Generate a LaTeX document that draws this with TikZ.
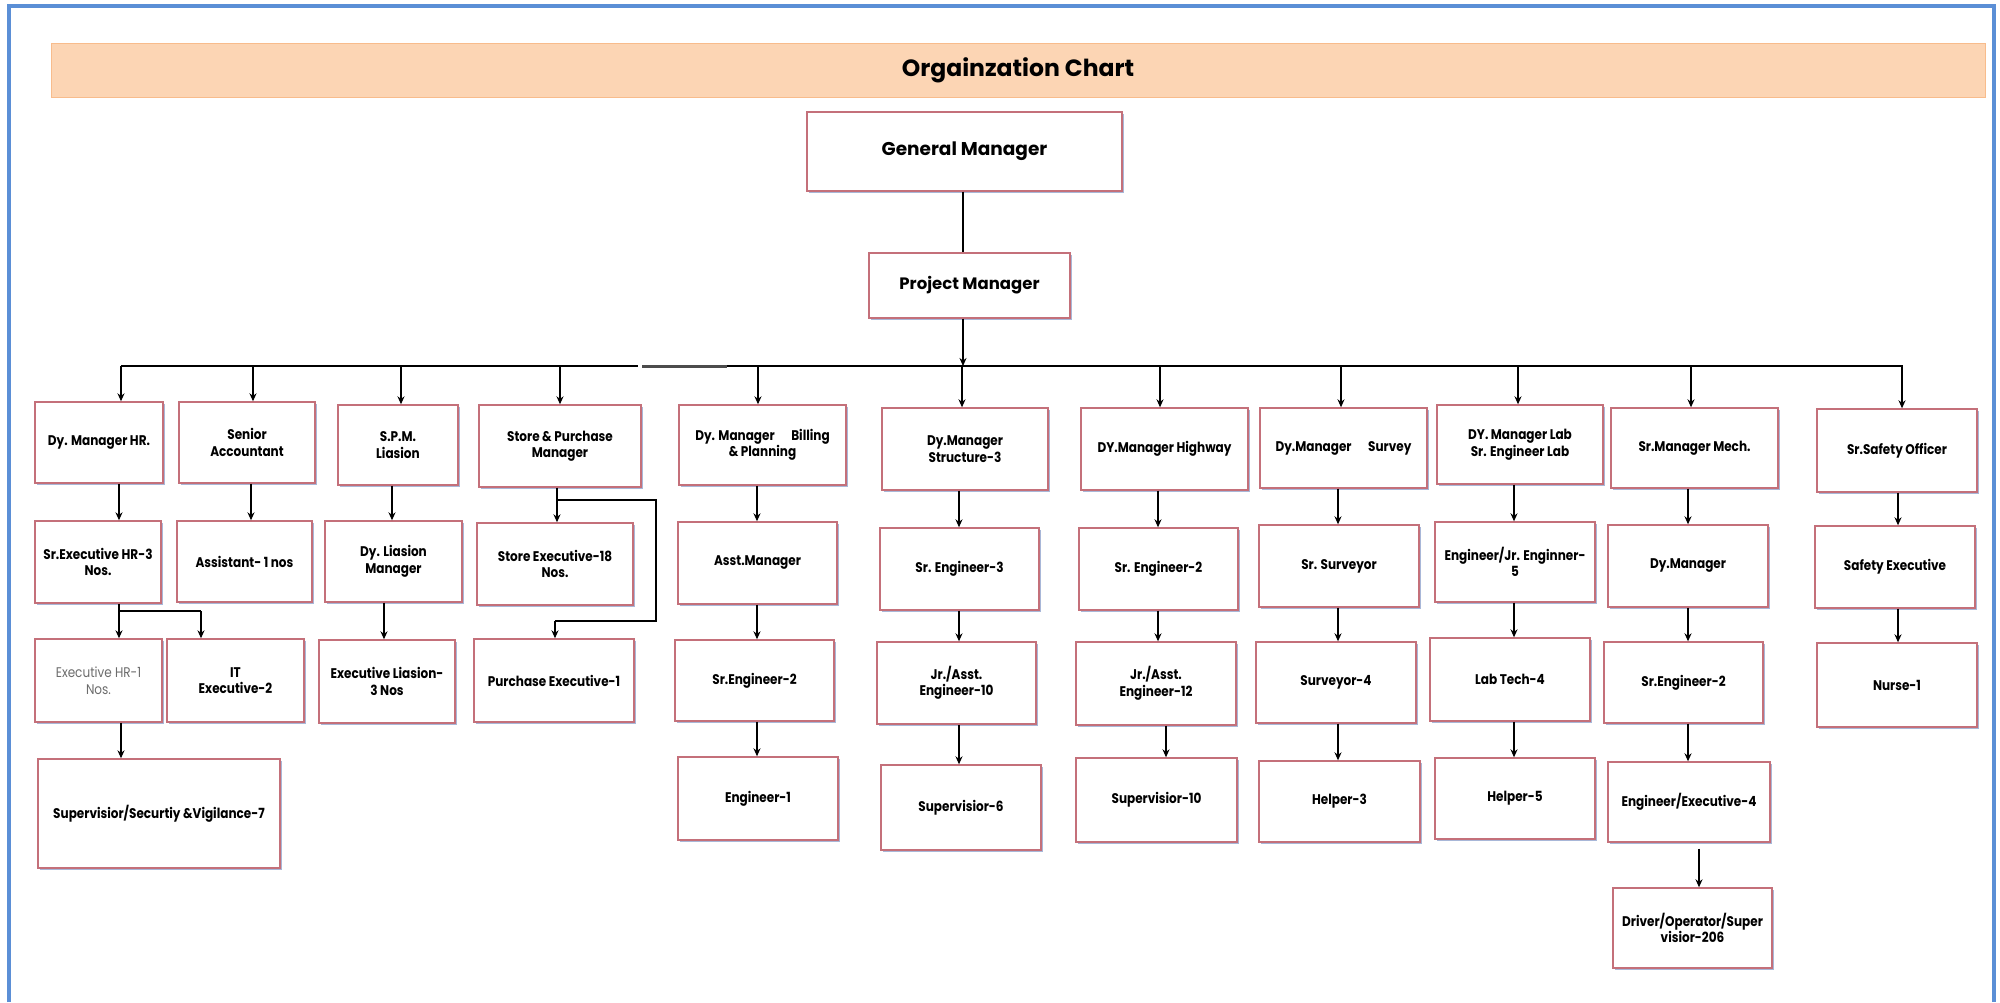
\documentclass[tikz,border=0pt]{standalone}
\usepackage{fontspec}
\setmainfont{Poppins}
\newfontfamily\boxfont{Poppins}[FakeStretch=0.86]
\usetikzlibrary{arrows.meta,shadows}
\definecolor{frameblue}{RGB}{91,143,214}
\definecolor{peach}{RGB}{252,213,180}
\definecolor{peachedge}{RGB}{248,188,140}
\definecolor{boxedge}{RGB}{196,112,122}
\definecolor{shadowblue}{RGB}{110,135,190}
\newcommand{\obox}[7][]{%
  \node[bx,#1,minimum width={#5-#3},minimum height={#6-#4}] (#2) at ({(#3+#5)/2},{(#4+#6)/2}) {#7};}
\begin{document}
\begin{tikzpicture}[x=1pt,y=-1pt,
  bx/.style={draw=boxedge,line width=1.4pt,fill=white,align=center,inner sep=2pt,
    font=\boxfont\bfseries\fontsize{14}{16.5}\selectfont,
    drop shadow={shadow xshift=1.5pt,shadow yshift=-2pt,fill=shadowblue,opacity=0.6}},
  ln/.style={draw=black,line width=1.5pt},
  arr/.style={draw=black,line width=1.5pt,-{Stealth[length=8pt,width=7pt]}}]
\useasboundingbox (0,0) rectangle (2000,1002);
% frame
\draw[frameblue,line width=3.5pt] (9,1002) -- (9,6) -- (1994,6) -- (1994,1002);
% title
\node[fill=peach,draw=peachedge,line width=1pt,minimum width=1934pt,minimum height=54pt,
  font=\bfseries\fontsize{23.5}{26}\selectfont] (title) at (1018,70) {Orgainzation Chart};
% top
\obox[font=\bfseries\fontsize{18.5}{21}\selectfont]{gm}{807}{112}{1122}{191}{General Manager}
\obox[font=\bfseries\fontsize{16.5}{19}\selectfont]{pm}{869}{253}{1070}{318}{Project Manager}
% row 1
\obox{hr1}{35}{402}{163}{483}{Dy. Manager HR.}
\obox{ac1}{179}{402}{315}{483}{Senior\\Accountant}
\obox{spm1}{338}{405}{458}{485}{S.P.M.\\Liasion}
\obox{sp1}{479}{405}{641}{487}{Store \& Purchase\\Manager}
\obox{bil1}{679}{405}{846}{485}{Dy. Manager\quad\ Billing\\\& Planning}
\obox{str1}{882}{408}{1048}{490}{Dy.Manager\\Structure-3}
\obox{hw1}{1081}{408}{1248}{490}{DY.Manager Highway}
\obox{sv1}{1260}{408}{1427}{488}{Dy.Manager\quad\ Survey}
\obox{lab1}{1437}{405}{1603}{484}{DY. Manager Lab\\Sr. Engineer Lab}
\obox{mech1}{1611}{408}{1778}{488}{Sr.Manager Mech.}
\obox{saf1}{1817}{409}{1977}{492}{Sr.Safety Officer}
% row 2
\obox{hr2}{35}{521}{161}{603}{Sr.Executive HR-3\\Nos.}
\obox{ac2}{177}{521}{312}{602}{Assistant- 1 nos}
\obox{spm2}{325}{521}{462}{602}{Dy. Liasion\\Manager}
\obox{se2}{477}{523}{633}{605}{Store Executive-18\\Nos.}
\obox{bil2}{678}{522}{837}{604}{Asst.Manager}
\obox{str2}{880}{528}{1039}{610}{Sr. Engineer-3}
\obox{hw2}{1079}{528}{1238}{610}{Sr. Engineer-2}
\obox{sv2}{1259}{525}{1419}{607}{Sr. Surveyor}
\obox{lab2}{1435}{522}{1595}{602}{Engineer/Jr. Enginner-\\5}
\obox{mech2}{1608}{525}{1768}{607}{Dy.Manager}
\obox{saf2}{1815}{526}{1975}{608}{Safety Executive}
% row 3
\obox[font=\boxfont\fontsize{14}{16.5}\selectfont,text=gray!85!black]{hr3}{35}{639}{162}{722}{Executive HR-1\\Nos.}
\obox{it3}{167}{639}{304}{722}{IT\\Executive-2}
\obox{spm3}{319}{640}{455}{723}{Executive Liasion-\\3 Nos}
\obox{pe3}{474}{639}{634}{722}{Purchase Executive-1}
\obox{bil3}{675}{640}{834}{721}{Sr.Engineer-2}
\obox{str3}{877}{642}{1036}{724}{Jr./Asst.\\Engineer-10}
\obox{hw3}{1076}{642}{1236}{725}{Jr./Asst.\\Engineer-12}
\obox{sv3}{1256}{642}{1416}{723}{Surveyor-4}
\obox{lab3}{1430}{638}{1590}{721}{Lab Tech-4}
\obox{mech3}{1604}{642}{1763}{723}{Sr.Engineer-2}
\obox{saf3}{1817}{643}{1977}{727}{Nurse-1}
% row 4
\obox{sup4}{38}{759}{280}{868}{Supervisior/Securtiy \&Vigilance-7}
\obox{bil4}{678}{757}{838}{840}{Engineer-1}
\obox{str4}{881}{765}{1041}{850}{Supervisior-6}
\obox{hw4}{1076}{758}{1237}{842}{Supervisior-10}
\obox{sv4}{1259}{761}{1420}{842}{Helper-3}
\obox{lab4}{1435}{758}{1595}{839}{Helper-5}
\obox{mech4}{1608}{762}{1770}{842}{Engineer/Executive-4}
% row 5
\obox{mech5}{1613}{888}{1772}{968}{Driver/Operator/Super\\visior-206}
% bus
\coordinate (busL) at (121,366);
\coordinate (gapA) at (638,366);
\coordinate (gapB) at (642,366);
\coordinate (gapC) at (727,366);
\coordinate (busR) at (1903,366);
\coordinate (cpm) at (963,366);
\draw[ln] (gm.south -| cpm) -- (pm.north -| cpm);
\draw[arr] (pm.south -| cpm) -- (cpm);
\draw[ln] (busL) -- (gapA);
\draw[line width=3pt,gray!60!black] (gapB) -- (gapC);
\draw[ln] (gapC) -- (busR);
\foreach \x/\n in {121/hr1,253/ac1,401/spm1,560/sp1,758/bil1,962/str1,1160/hw1,1341/sv1,1518/lab1,1691/mech1,1902/saf1}{
  \coordinate (bus-\n) at (\x,366);
  \draw[arr] (bus-\n) -- (bus-\n |- \n.north);
}
% column connectors
\coordinate (xHR) at (119,0);
\coordinate (xHRb) at (121,0);
\coordinate (xAC) at (251,0);
\coordinate (xSPa) at (392,0);
\coordinate (xSPb) at (384,0);
\coordinate (xST) at (557,0);
\coordinate (xBIL) at (757,0);
\coordinate (xSTR) at (959,0);
\coordinate (xHW) at (1158,0);
\coordinate (xHWb) at (1166,0);
\coordinate (xSV) at (1338,0);
\coordinate (xLAB) at (1514,0);
\coordinate (xMECH) at (1688,0);
\coordinate (xMECHb) at (1699,0);
\coordinate (xSAF) at (1898,0);
\draw[arr] (hr1.south -| xHR) -- (hr2.north -| xHR);
\coordinate (hrsplit) at (119,611);
\coordinate (itx) at (201,611);
\draw[ln] (hr2.south -| hrsplit) -- (hrsplit);
\draw[arr] (hrsplit) -- (hrsplit |- hr3.north);
\draw[ln] (hrsplit) -- (itx);
\draw[arr] (itx) -- (itx |- it3.north);
\draw[arr] (hr3.south -| xHRb) -- (sup4.north -| xHRb);
\draw[arr] (ac1.south -| xAC) -- (ac2.north -| xAC);
\draw[arr] (spm1.south -| xSPa) -- (spm2.north -| xSPa);
\draw[arr] (spm2.south -| xSPb) -- (spm3.north -| xSPb);
% store loop
\coordinate (st1) at (557,500);
\coordinate (st2) at (656,500);
\coordinate (st3) at (656,621);
\coordinate (st4) at (555,621);
\draw[arr] (sp1.south -| xST) -- (se2.north -| xST);
\draw[ln] (st1) -- (st2) -- (st3) -- (st4);
\draw[arr] (st4) -- (st4 |- pe3.north);
% other columns
\foreach \a/\b/\c in {bil1/bil2/xBIL,bil2/bil3/xBIL,bil3/bil4/xBIL,
  str1/str2/xSTR,str2/str3/xSTR,str3/str4/xSTR,
  hw1/hw2/xHW,hw2/hw3/xHW,hw3/hw4/xHWb,
  sv1/sv2/xSV,sv2/sv3/xSV,sv3/sv4/xSV,
  lab1/lab2/xLAB,lab2/lab3/xLAB,lab3/lab4/xLAB,
  mech1/mech2/xMECH,mech2/mech3/xMECH,mech3/mech4/xMECH,
  saf1/saf2/xSAF,saf2/saf3/xSAF}{
  \draw[arr] (\a.south -| \c) -- (\b.north -| \c);
}
\draw[arr,shorten <=6pt] (mech4.south -| xMECHb) -- (mech5.north -| xMECHb);
\end{tikzpicture}
\end{document}
